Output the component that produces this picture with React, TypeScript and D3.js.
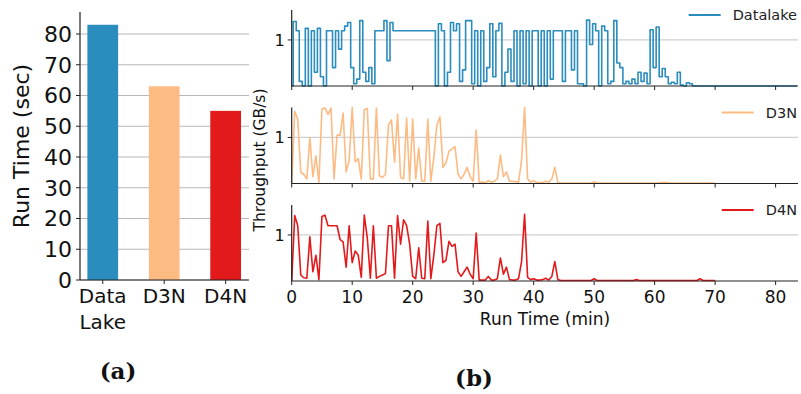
import React, { useEffect, useRef } from "react";
import * as d3 from "d3";

// left panel (a): total run time per storage setup
const barLabels = [["Data", "Lake"], ["D3N"], ["D4N"]];
const runTimeSec = [83, 63, 55];
const barColors = ["#2b8cbe", "#fdbb84", "#e31a1c"];
const runTimeTicks = [0, 10, 20, 30, 40, 50, 60, 70, 80];

// right panel (b): throughput in GB/s, one sample every half minute
const sampleStepMin = 0.5;
const datalakeGBs = [
  0, 1.4, 1.2, 0.1, 0, 1.25, 0, 1.2, 0.3, 1.25,
  0.2, 0, 1.2, 1.2, 0.4, 1.2, 0.8, 1.2, 1.3, 1.38,
  0.4, 0.05, 0.15, 1.42, 0.3, 0.1, 0.4, 0.05, 1.2, 1.2,
  1.2, 1.42, 0.55, 1.38, 1.2, 1.2, 1.2, 1.2, 1.2, 1.2,
  1.2, 1.2, 1.2, 1.2, 1.2, 1.2, 1.2, 1.2, 0, 1.35,
  1.2, 0, 0.3, 1.38, 1.2, 1.35, 0.1, 0.35, 1.42, 1.42,
  0.05, 1.2, 0, 1.2, 0.1, 0.4, 1.35, 0.2, 1.2, 1.36,
  0, 0.3, 0.8, 0.1, 1.2, 0, 1.2, 0.05, 1.2, 0,
  1.2, 1.2, 0, 1.2, 0, 1.2, 0.15, 1.2, 1.2, 1.2,
  0.1, 1.2, 1.2, 0.35, 1.2, 0.05, 0.05, 0, 1.43, 0.9,
  1.35, 1.2, 0, 1.3, 1.2, 0.05, 0.1, 1.42, 0.5, 0.4,
  0.05, 0.1, 0.05, 0.15, 0.05, 0.3, 0.1, 0.28, 0.05, 1.22,
  0.4, 1.28, 0.2, 0.38, 0.2, 0.05, 0.08, 0.05, 0.3, 0.02,
  0, 0.07, 0.05, 0, 0, 0, 0, 0, 0, 0,
  0, 0, 0, 0, 0, 0, 0, 0, 0, 0,
  0, 0, 0, 0, 0, 0, 0, 0, 0, 0,
  0, 0, 0, 0, 0, 0, 0, 0,
];
const d3nGBs = [
  0, 1.57, 1.4, 0.24, 0.2, 0.1, 1.0, 0.15, 0.6, 0.02,
  1.62, 1.64, 1.5, 1.64, 0.1, 1.05, 1.05, 1.53, 0.25, 0.5,
  1.65, 0.47, 0.54, 0.1, 1.6, 1.63, 0.1, 0.1, 1.64, 0.17,
  0.13, 0.2, 1.27, 1.38, 0.46, 1.5, 0.13, 0.1, 1.42, 0.05,
  1.4, 0.1, 0.77, 0.05, 0.05, 1.4, 0.05, 0.57, 1.27, 1.45,
  0.35, 0.45, 0.7, 0.75, 0.8, 0.2, 0.1, 0.2, 0.35, 0.15,
  0.05, 1.16, 0.02, 0.03, 0.02, 0.06, 0.03, 0.05, 0.1, 0.62,
  0.15, 0.25, 0.05, 0.05, 0.04, 0.03, 0.5, 1.65, 0.1, 0.03,
  0.06, 0.02, 0.02, 0.02, 0.05, 0.02, 0.1, 0.35, 0.02, 0.01,
  0.01, 0.01, 0.01, 0.01, 0.01, 0.01, 0.01, 0.01, 0.01, 0.01,
  0.04, 0.01, 0.01, 0.01, 0.01, 0.01, 0.01, 0.01, 0.01, 0.01,
  0.01, 0.01, 0.01, 0.01, 0.01, 0.01, 0.01, 0.01, 0.01, 0.01,
  0.01, 0.01, 0.02, 0.02, 0.02, 0.01, 0.01, 0.01, 0.01, 0.01,
  0.01, 0.01, 0.01, 0.01, 0.01, 0.01, 0.01, 0.01, 0.01, 0.01,
  0.01,
];
const d4nGBs = [
  0, 1.42, 1.2, 0.13, 0.07, 0.06, 0.96, 0.2, 0.56, 0.03,
  1.4, 1.43, 1.2, 1.2, 1.2, 1.2, 0.9, 0.85, 0.3, 1.2,
  0.4, 0.65, 0.56, 0.08, 1.43, 0.93, 0.06, 1.2, 0.06, 0.1,
  0.13, 0.16, 1.2, 1.2, 0.06, 1.42, 0.8, 1.33, 1.2, 0.8,
  0.1, 0.05, 0.72, 0.06, 0.05, 1.3, 0.05, 0.56, 1.2, 1.25,
  0.4, 0.45, 0.86, 0.75, 0.8, 0.2, 0.1, 0.2, 0.3, 0.15,
  0.05, 1.04, 0.02, 0.02, 0.02, 0.1, 0.02, 0.02, 0.05, 0.5,
  0.15, 0.3, 0.03, 0.02, 0.02, 0.05, 0.42, 1.45, 0.08, 0.03,
  0.05, 0.02, 0.02, 0.03, 0.06, 0.02, 0.1, 0.42, 0.03, 0.01,
  0.01, 0.01, 0.01, 0.01, 0.01, 0.01, 0.01, 0.01, 0.01, 0.01,
  0.05, 0.01, 0.01, 0.01, 0.01, 0.01, 0.01, 0.01, 0.01, 0.01,
  0.01, 0.01, 0.01, 0.01, 0.03, 0.01, 0.01, 0.01, 0.01, 0.01,
  0.01, 0.01, 0.01, 0.01, 0.01, 0.01, 0.01, 0.01, 0.01, 0.01,
  0.01, 0.01, 0.01, 0.01, 0.01, 0.05, 0.01, 0.01, 0.01, 0.01,
  0.01,
];
const seriesNames = ["Datalake", "D3N", "D4N"];
const minuteTicks = [0, 10, 20, 30, 40, 50, 60, 70, 80];
const throughputTicks = [1];

const FONT = "DejaVu Sans, sans-serif";

const App = () => {
  const ref = useRef(null);

  useEffect(() => {
    draw();
  });

  let draw = () => {
    const svg = d3.select(ref.current);
    svg.selectAll("*").remove();

    // ---------- (a) bar chart ----------
    const barX = d3.scaleLinear().domain([-0.37, 2.38]).range([80, 249]);
    const barY = d3.scaleLinear().domain([0, 87.15]).range([280, 12]);
    const a = svg.append("g");

    a.selectAll(".grid")
      .data(runTimeTicks)
      .enter()
      .append("line")
      .attr("x1", barX(-0.37))
      .attr("x2", barX(2.38))
      .attr("y1", (d) => barY(d))
      .attr("y2", (d) => barY(d))
      .attr("stroke", "#b8b8b8")
      .attr("stroke-width", 1.2);

    a.selectAll(".bar")
      .data(runTimeSec)
      .enter()
      .append("rect")
      .attr("x", (d, i) => barX(i - 0.25))
      .attr("width", barX(0.25) - barX(-0.25))
      .attr("y", (d) => barY(d))
      .attr("height", (d) => barY(0) - barY(d))
      .attr("fill", (d, i) => barColors[i]);

    a.append("line")
      .attr("x1", 80).attr("x2", 80)
      .attr("y1", barY(87.15)).attr("y2", barY(0))
      .attr("stroke", "#222").attr("stroke-width", 1.2);
    a.append("line")
      .attr("x1", 80).attr("x2", barX(2.38))
      .attr("y1", barY(0)).attr("y2", barY(0))
      .attr("stroke", "#222").attr("stroke-width", 1.2);

    const yt = a.selectAll(".ytick").data(runTimeTicks).enter().append("g");
    yt.append("line")
      .attr("x1", 76).attr("x2", 80)
      .attr("y1", (d) => barY(d)).attr("y2", (d) => barY(d))
      .attr("stroke", "#222");
    yt.append("text")
      .attr("x", 72)
      .attr("y", (d) => barY(d))
      .attr("dy", "0.36em")
      .attr("text-anchor", "end")
      .style("font-family", FONT)
      .style("font-size", "22px")
      .attr("fill", "#111")
      .text((d) => d);

    barLabels.forEach((lines, i) => {
      a.append("line")
        .attr("x1", barX(i)).attr("x2", barX(i))
        .attr("y1", 280).attr("y2", 284)
        .attr("stroke", "#222");
      lines.forEach((s, j) => {
        a.append("text")
          .attr("x", barX(i))
          .attr("y", 303 + j * 26)
          .attr("text-anchor", "middle")
          .style("font-family", FONT)
          .style("font-size", "20px")
          .attr("fill", "#111")
          .text(s);
      });
    });

    a.append("text")
      .attr("transform", "translate(29,146) rotate(-90)")
      .attr("text-anchor", "middle")
      .style("font-family", FONT)
      .style("font-size", "22px")
      .attr("fill", "#111")
      .text("Run Time (sec)");

    // ---------- (b) throughput panels ----------
    const tx = d3.scaleLinear().domain([0, 83.7]).range([291.7, 798]);
    const tops = [10, 107.5, 205];
    const ph = 76;
    const allSeries = [datalakeGBs, d3nGBs, d4nGBs];
    // Datalake sits on a flat plateau with sharp drops, the others are spiky
    const curves = [d3.curveStep, d3.curveLinear, d3.curveLinear];

    allSeries.forEach((vals, k) => {
      const top = tops[k];
      const ty = d3.scaleLinear().domain([0, 1.65]).range([top + ph, top]);
      const g = svg.append("g");

      g.selectAll(".hgrid")
        .data(throughputTicks)
        .enter()
        .append("line")
        .attr("x1", tx(0)).attr("x2", tx(83.7))
        .attr("y1", (d) => ty(d)).attr("y2", (d) => ty(d))
        .attr("stroke", "#cfcfcf")
        .attr("stroke-width", 1.3);

      const line = d3
        .line()
        .curve(curves[k])
        .x((d, i) => tx(i * sampleStepMin))
        .y((d) => ty(d));
      g.append("path")
        .datum(vals)
        .attr("d", line)
        .attr("fill", "none")
        .attr("stroke", barColors[k])
        .attr("stroke-width", 1.6)
        .attr("stroke-linejoin", "round");

      g.append("line")
        .attr("x1", tx(0)).attr("x2", tx(0))
        .attr("y1", top).attr("y2", top + ph)
        .attr("stroke", "#222").attr("stroke-width", 1.2);
      g.append("line")
        .attr("x1", tx(0)).attr("x2", tx(83.7))
        .attr("y1", top + ph).attr("y2", top + ph)
        .attr("stroke", "#222").attr("stroke-width", 1.2);

      g.selectAll(".xt")
        .data(minuteTicks)
        .enter()
        .append("line")
        .attr("x1", (d) => tx(d)).attr("x2", (d) => tx(d))
        .attr("y1", top + ph).attr("y2", top + ph + 4)
        .attr("stroke", "#222");

      const ytk = g.selectAll(".yt").data(throughputTicks).enter().append("g");
      ytk.append("line")
        .attr("x1", tx(0) - 4).attr("x2", tx(0))
        .attr("y1", (d) => ty(d)).attr("y2", (d) => ty(d))
        .attr("stroke", "#222");
      ytk.append("text")
        .attr("x", tx(0) - 7)
        .attr("y", (d) => ty(d))
        .attr("dy", "0.36em")
        .attr("text-anchor", "end")
        .style("font-family", FONT)
        .style("font-size", "16px")
        .attr("fill", "#111")
        .text((d) => d);

      if (k === 2) {
        g.selectAll(".xl")
          .data(minuteTicks)
          .enter()
          .append("text")
          .attr("x", (d) => tx(d))
          .attr("y", top + ph + 22)
          .attr("text-anchor", "middle")
          .style("font-family", FONT)
          .style("font-size", "17px")
          .attr("fill", "#111")
          .text((d) => d);
      }

      // legend, right aligned at the panel's right edge
      const lg = g.append("g");
      const label = lg
        .append("text")
        .attr("x", 797)
        .attr("y", top + 5)
        .attr("dy", "0.36em")
        .attr("text-anchor", "end")
        .style("font-family", FONT)
        .style("font-size", "14.5px")
        .attr("fill", "#222")
        .text(seriesNames[k]);
      const tw = label.node().getComputedTextLength();
      lg.append("line")
        .attr("x1", 797 - tw - 44).attr("x2", 797 - tw - 12)
        .attr("y1", top + 5).attr("y2", top + 5)
        .attr("stroke", barColors[k])
        .attr("stroke-width", 2);
    });

    svg.append("text")
      .attr("x", 545)
      .attr("y", 325)
      .attr("text-anchor", "middle")
      .style("font-family", FONT)
      .style("font-size", "17px")
      .attr("fill", "#111")
      .text("Run Time (min)");

    svg.append("text")
      .attr("transform", "translate(265,160) rotate(-90)")
      .attr("text-anchor", "middle")
      .style("font-family", FONT)
      .style("font-size", "15.5px")
      .attr("fill", "#111")
      .text("Throughput (GB/s)");

    svg.append("text")
      .attr("x", 118).attr("y", 379)
      .attr("text-anchor", "middle")
      .style("font-family", "DejaVu Serif, serif")
      .style("font-weight", "bold")
      .style("font-size", "23px")
      .attr("fill", "#111")
      .text("(a)");
    svg.append("text")
      .attr("x", 474).attr("y", 386)
      .attr("text-anchor", "middle")
      .style("font-family", "DejaVu Serif, serif")
      .style("font-weight", "bold")
      .style("font-size", "23px")
      .attr("fill", "#111")
      .text("(b)");
  };

  return (
    <svg
      ref={ref}
      width={801}
      height={394}
      style={{ position: "absolute", left: 0, top: 0, background: "#fff" }}
    />
  );
};

export default App;
